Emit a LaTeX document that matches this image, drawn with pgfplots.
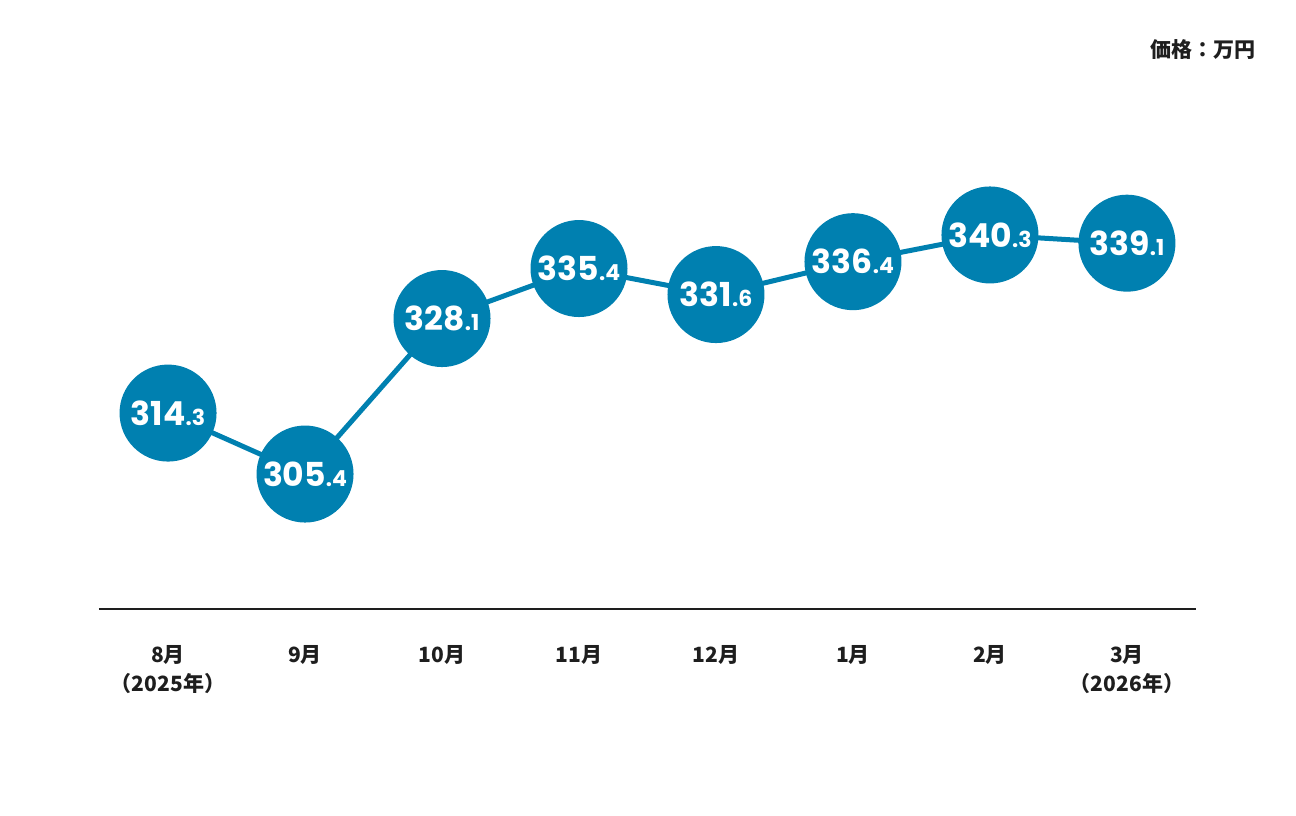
\documentclass[border=0pt]{standalone}
\usepackage{fontspec}
\usepackage{pgfplots}
\pgfplotsset{compat=1.18}
\newfontfamily\cjk{Noto Sans CJK JP}
\newfontfamily\numfont{Poppins}
\definecolor{dotblue}{RGB}{0,128,176}
\definecolor{baseline}{RGB}{30,30,30}
\def\splitlab#1.#2\relax{{\fontsize{16.5}{17}\selectfont #1}{\fontsize{11}{12}\selectfont .#2}}

\begin{document}
\begin{tikzpicture}
\begin{axis}[
    scale only axis,
    width=548.5pt, height=304.5pt,
    xmin=-0.504, xmax=7.504,
    ymin=285.7, ymax=374.6,
    axis x line*=bottom,
    axis y line=none,
    x axis line style={draw=baseline, line width=1pt, -},
    xtick={0,...,7},
    major tick length=0pt,
    xticklabels={{8月\\（2025年）},9月,10月,11月,12月,1月,2月,{3月\\（2026年）}},
    xticklabel style={font=\cjk\bfseries\fontsize{10.5}{14.5}\selectfont, align=center, text=baseline, yshift=-14.5pt},
    ytick=\empty,
    clip=false,
  ]
  \addplot[dotblue, line width=2.5pt, mark=*, mark size=23pt,
    mark options={fill=dotblue, draw=none},
    point meta=explicit symbolic,
    nodes near coords={\expandafter\splitlab\pgfplotspointmeta\relax},
    nodes near coords align={center},
    every node near coord/.append style={font=\numfont\bfseries, text=white, inner sep=0pt},
  ] coordinates {
    (0,314.3) [314.3]
    (1,305.4) [305.4]
    (2,328.1) [328.1]
    (3,335.4) [335.4]
    (4,331.6) [331.6]
    (5,336.4) [336.4]
    (6,340.3) [340.3]
    (7,339.1) [339.1]
  };
  \node[anchor=east, inner sep=0pt, font=\cjk\bfseries\fontsize{10.5}{12}\selectfont, text=baseline]
    at (axis cs:7.942,367.3) {価格：万円};
  \path (rel axis cs:0,0) ++(-49.5pt,-103.5pt) (rel axis cs:1,1) ++(50pt,0pt);
\end{axis}
\end{tikzpicture}
\end{document}
